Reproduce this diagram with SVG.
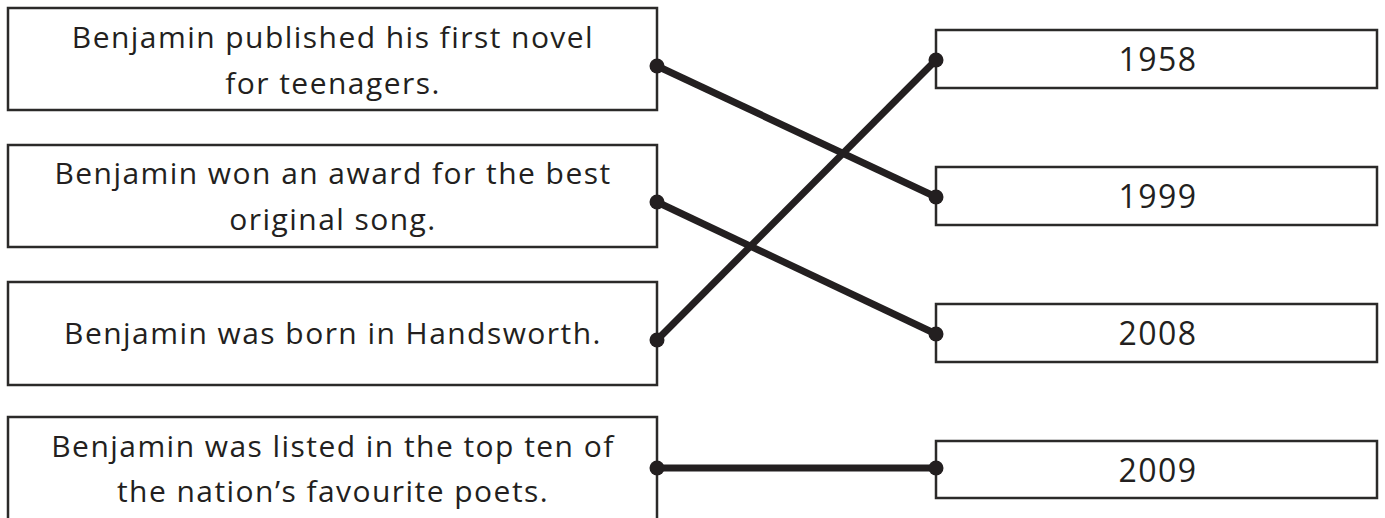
<svg xmlns="http://www.w3.org/2000/svg" width="1385" height="518" viewBox="0 0 1385 518">
<style>
.box{fill:#fff;stroke:#2b2a29;stroke-width:2.5}
.lt{font-family:"Open Sans","Liberation Sans",sans-serif;font-size:30px;letter-spacing:1.45px;fill:#231f20;text-anchor:middle}
.rt{font-family:"Open Sans","Liberation Sans",sans-serif;font-size:32px;letter-spacing:1.5px;fill:#231f20;text-anchor:middle}
.con{stroke:#231f20;stroke-width:7;fill:none}
.dot{fill:#231f20}
</style>
<rect width="1385" height="518" fill="#fff"/>
<g id="left1"><rect class="box" x="8" y="8" width="649" height="102"/><text class="lt" x="333" y="48">Benjamin published his first novel</text><text class="lt" x="333" y="94">for teenagers.</text></g>
<g id="left2"><rect class="box" x="8" y="145" width="649" height="102"/><text class="lt" x="333" y="184">Benjamin won an award for the best</text><text class="lt" x="333" y="230">original song.</text></g>
<g id="left3"><rect class="box" x="8" y="282" width="649" height="103"/><text class="lt" x="333" y="344">Benjamin was born in Handsworth.</text></g>
<g id="left4"><path class="box" d="M8,530 V417 H657 V530"/><text class="lt" x="333" y="457">Benjamin was listed in the top ten of</text><text class="lt" x="333" y="502">the nation’s favourite poets.</text></g>
<g id="right1"><rect class="box" x="936" y="30" width="441" height="58"/><text class="rt" x="1158" y="71">1958</text></g>
<g id="right2"><rect class="box" x="936" y="167" width="441" height="58"/><text class="rt" x="1158" y="208">1999</text></g>
<g id="right3"><rect class="box" x="936" y="304" width="441" height="58"/><text class="rt" x="1158" y="345">2008</text></g>
<g id="right4"><rect class="box" x="936" y="441" width="441" height="57"/><text class="rt" x="1158" y="482">2009</text></g>
<g id="connectors">
<line class="con" x1="657" y1="66" x2="936" y2="197"/>
<line class="con" x1="657" y1="202" x2="936" y2="334"/>
<line class="con" x1="657" y1="340" x2="936" y2="60"/>
<line class="con" x1="657" y1="468" x2="936" y2="468"/>
<circle class="dot" cx="657" cy="66" r="7.5"/><circle class="dot" cx="936" cy="197" r="7.5"/>
<circle class="dot" cx="657" cy="202" r="7.5"/><circle class="dot" cx="936" cy="334" r="7.5"/>
<circle class="dot" cx="657" cy="340" r="7.5"/><circle class="dot" cx="936" cy="60" r="7.5"/>
<circle class="dot" cx="657" cy="468" r="7.5"/><circle class="dot" cx="936" cy="468" r="7.5"/>
</g>
</svg>
